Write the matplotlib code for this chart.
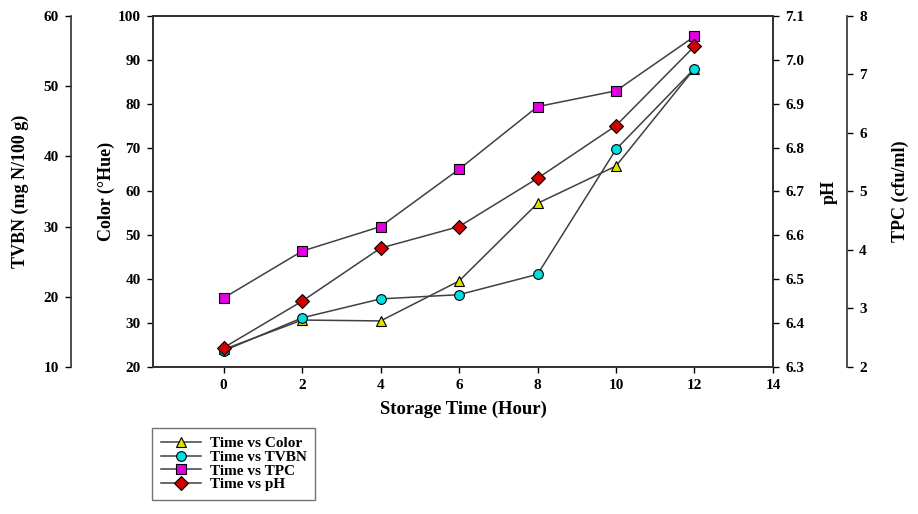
import numpy as np
import matplotlib.pyplot as plt
from matplotlib.lines import Line2D

plt.rcParams['font.family'] = ['Liberation Serif', 'DejaVu Serif']
plt.rcParams['font.weight'] = 'bold'

# Data
hours = [0, 2, 4, 6, 8, 10, 12]
color_hue = [24.0, 30.7, 30.5, 39.6, 57.3, 65.8, 88.0]
tvbn = [12.3, 17.0, 19.7, 20.3, 23.2, 41.0, 52.5]
tpc = [3.18, 3.98, 4.40, 5.38, 6.45, 6.72, 7.65]
ph = [6.344, 6.450, 6.571, 6.620, 6.730, 6.850, 7.031]

x_ticks = [0, 2, 4, 6, 8, 10, 12, 14]
color_ticks = list(range(20, 101, 10))
tvbn_ticks = list(range(10, 61, 10))
ph_ticks = [6.3, 6.4, 6.5, 6.6, 6.7, 6.8, 6.9, 7.0, 7.1]
tpc_ticks = list(range(2, 9))

fig = plt.figure(figsize=(9.18, 5.14), dpi=100)
ax = fig.add_axes([0.1667, 0.286, 0.6753, 0.683])

line_kw = dict(color='#404040', linewidth=1.1, markeredgecolor='black',
               markeredgewidth=0.8, markersize=7)
tick_fs = 11
label_fs = 13

# Color (main axis)
ax.plot(hours, color_hue, marker='^', markerfacecolor='#e0e000', **line_kw)
ax.set_xlim(-1.8, 14)
ax.set_ylim(20, 100)
ax.set_xticks(x_ticks)
ax.set_yticks(color_ticks)
ax.set_xlabel('Storage Time (Hour)', fontsize=13.5, fontweight='bold', labelpad=6)
ax.set_ylabel('Color (\u00b0Hue)', fontsize=label_fs, fontweight='bold', labelpad=2)
ax.tick_params(labelsize=tick_fs, direction='out', length=4, width=1, pad=5)

# TVBN axis, far left
ax_tv = ax.twinx()
ax_tv.plot(hours, tvbn, marker='o', markerfacecolor='#00e0e0', **line_kw)
ax_tv.set_ylim(10, 60)
ax_tv.set_yticks(tvbn_ticks)
ax_tv.spines['left'].set_position(('axes', -0.132))
ax_tv.spines['left'].set_visible(True)
for s in ['right', 'top', 'bottom']:
    ax_tv.spines[s].set_visible(False)
ax_tv.yaxis.set_ticks_position('left')
ax_tv.yaxis.set_label_position('left')
ax_tv.set_ylabel('TVBN (mg N/100 g)', fontsize=label_fs, fontweight='bold', labelpad=10)
ax_tv.tick_params(labelsize=tick_fs, direction='out', length=4, width=1, pad=5)

# TPC axis, far right
ax_tpc = ax.twinx()
ax_tpc.plot(hours, tpc, marker='s', markerfacecolor='#e000e0', **line_kw)
ax_tpc.set_ylim(2, 8)
ax_tpc.set_yticks(tpc_ticks)
ax_tpc.spines['right'].set_position(('axes', 1.119))
for s in ['left', 'top', 'bottom']:
    ax_tpc.spines[s].set_visible(False)
ax_tpc.set_ylabel('TPC (cfu/ml)', fontsize=label_fs, fontweight='bold', labelpad=18)
ax_tpc.tick_params(labelsize=tick_fs, direction='out', length=4, width=1, pad=5)

# pH axis, right
ax_ph = ax.twinx()
ax_ph.plot(hours, ph, marker='D', markerfacecolor='#d00000', **line_kw)
ax_ph.set_ylim(6.3, 7.1)
ax_ph.set_yticks(ph_ticks)
ax_ph.set_yticklabels([f'{v:.1f}' for v in ph_ticks])
ax_ph.set_ylabel('pH', fontsize=label_fs, fontweight='bold', labelpad=12)
ax_ph.tick_params(labelsize=tick_fs, direction='out', length=4, width=1, pad=5)

for a in [ax, ax_tv, ax_tpc, ax_ph]:
    for sp in a.spines.values():
        sp.set_linewidth(1.2)
        sp.set_color('#303030')

handles = [
    Line2D([], [], marker='^', markerfacecolor='#e0e000', **line_kw),
    Line2D([], [], marker='o', markerfacecolor='#00e0e0', **line_kw),
    Line2D([], [], marker='s', markerfacecolor='#e000e0', **line_kw),
    Line2D([], [], marker='D', markerfacecolor='#d00000', **line_kw),
]
labels = ['Time vs Color', 'Time vs TVBN', 'Time vs TPC', 'Time vs pH']
leg = fig.legend(handles, labels, loc='upper left', bbox_to_anchor=(0.166, 0.167),
                 fancybox=False, edgecolor='#505050', fontsize=11,
                 labelspacing=0.0, handlelength=2.6, borderaxespad=0,
                 borderpad=0.55, handletextpad=0.6)
leg.get_frame().set_linewidth(1.0)
for t in leg.get_texts():
    t.set_fontweight('bold')

fig.savefig('out.png', dpi=100)
